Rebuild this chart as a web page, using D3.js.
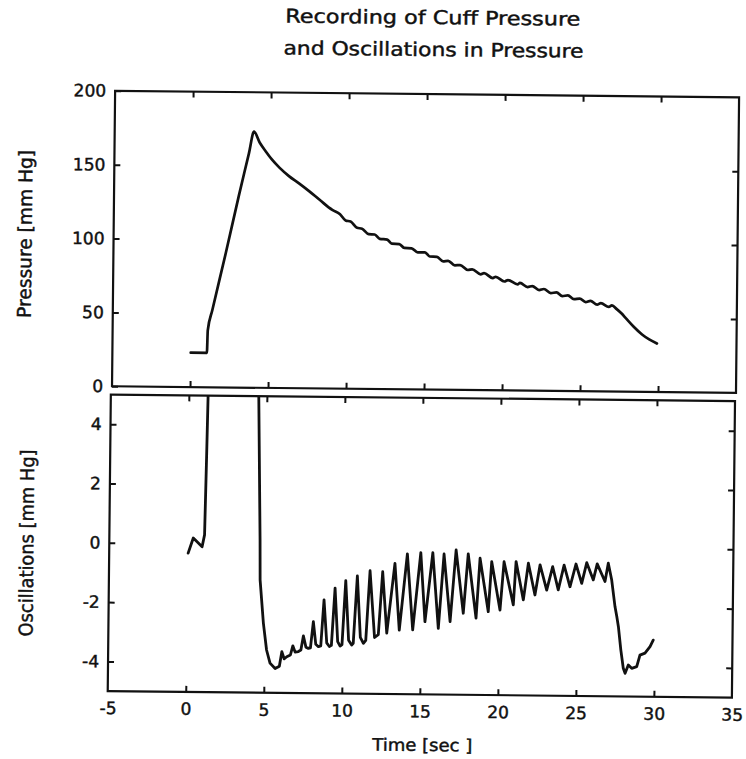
<!DOCTYPE html>
<html>
<head>
<meta charset="utf-8">
<script src="https://cdn.jsdelivr.net/npm/d3@7"></script>
<style>
  html, body { margin: 0; padding: 0; background: #ffffff; }
  svg { display: block; }
  text { font-family: "DejaVu Sans", "Liberation Sans", sans-serif; fill: #111; }
</style>
</head>
<body>
<svg id="chart" width="746" height="759"></svg>
<script>
// Cuff pressure (mm Hg) over time (s): inflation ramp, then slow deflation with heartbeat ripple
const pressureTime  = [
  0.02, 1.06, 1.10, 1.38, 2.20, 3.01, 3.62, 3.93, 4.30, 4.70, 5.12, 5.60, 6.20, 6.85, 7.50, 8.20, 9.00,
  9.50, 9.86, 10.18, 10.60, 10.92, 11.35, 11.73, 12.06, 12.54, 12.84, 13.32, 13.64, 14.11, 14.50,
  14.97, 15.28, 15.74, 16.14, 16.46, 16.89, 17.23, 17.73, 18.01, 18.55, 18.77, 19.33, 19.52, 20.08,
  20.31, 20.93, 21.08, 21.57, 21.87, 22.31, 22.62, 23.06, 23.43, 23.80, 24.16, 24.55, 24.92, 25.30,
  25.61, 26.04, 26.28, 26.79, 26.99,
  27.30, 27.60, 27.90, 28.40, 28.94, 29.40, 29.90
];
const pressureValue = [
  23.3, 23.3, 38.5, 52.3, 90.8, 130.3, 158.6, 173.3, 166, 160, 154.3, 149, 143.5, 138.7, 133.5, 127.5, 120.9,
  118.1, 113.9, 113.2, 109.0, 108.4, 104.8, 104.6, 101.7, 101.2, 98.5, 98.3, 95.7, 95.5, 92.8,
  92.8, 90.1, 89.9, 86.9, 87.3, 84.3, 84.5, 81.2, 81.7, 78.4, 79.2, 75.9, 76.8, 73.7,
  74.7, 71.8, 72.9, 70.1, 70.8, 68.1, 68.9, 66.2, 66.7, 64.2, 64.7, 62.2, 62.7, 60.3,
  61.2, 58.7, 59.7, 57.2, 58.3,
  55.8, 53.0, 49.6, 44.0, 38.8, 35.5, 32.8
];

// Pressure oscillations (mm Hg); null where the trace runs off the top of the panel
const oscTime = [
  0.06, 0.38, 0.95, 1.10, 1.18, 1.25, 2.8,
  4.46, 4.66, 4.69, 4.93, 5.15, 5.38, 5.71,
  5.98, 6.13, 6.28, 6.45,
  6.68, 6.83, 6.98, 7.19,
  7.35, 7.50, 7.67, 7.83,
  7.96, 8.13, 8.30, 8.47,
  8.62, 8.80, 9.00, 9.17,
  9.30, 9.50, 9.70, 9.86,
  9.98, 10.18, 10.40, 10.60,
  10.70, 10.92, 11.15, 11.35,
  11.50, 11.73, 12.06,
  12.30, 12.54, 12.84,
  13.32, 13.64, 14.11, 14.50, 14.97, 15.28, 15.74, 16.14, 16.46, 16.89,
  17.23, 17.73, 18.01, 18.55, 18.77, 19.33, 19.52, 20.08, 20.31, 20.93,
  21.08, 21.57, 21.87, 22.31, 22.62, 23.06, 23.43, 23.80, 24.16, 24.55,
  24.92, 25.30, 25.61, 26.04, 26.28, 26.79, 26.99,
  27.22, 27.45, 27.57, 27.68, 27.85, 28.02, 28.14, 28.34, 28.56, 28.88,
  29.08, 29.40, 29.72, 29.92
];
const oscValue = [
  -0.32, 0.19, -0.10, 0.30, 3.0, 5.6, null,
  5.6, 0.15, -1.2, -2.66, -3.56, -4.0, -4.18,
  -4.10, -3.61, -3.85, -3.78,
  -3.72, -3.41, -3.62, -3.60,
  -3.55, -3.07, -3.45, -3.49,
  -3.47, -2.59, -3.35, -3.43,
  -3.40, -1.85, -3.30, -3.42,
  -3.38, -1.45, -3.25, -3.40,
  -3.35, -1.19, -3.20, -3.36,
  -3.30, -1.03, -3.10, -3.30,
  -3.20, -0.85, -3.10,
  -3.00, -0.88, -2.95,
  -0.59, -2.84, -0.27, -2.83, -0.22, -2.55, -0.22, -2.77, -0.26, -2.54,
  -0.12, -2.25, -0.25, -2.41, -0.39, -2.19, -0.50, -2.13, -0.50, -1.95,
  -0.49, -1.78, -0.54, -1.61, -0.59, -1.44, -0.65, -1.43, -0.59, -1.32,
  -0.55, -1.20, -0.50, -1.08, -0.54, -1.13, -0.51,
  -1.08, -1.98, -2.31, -2.65, -3.43, -4.05, -4.22, -3.94, -4.05, -3.99,
  -3.60, -3.53, -3.31, -3.09
];

const timeTicks     = [-5, 0, 5, 10, 15, 20, 25, 30, 35];
const timeInner     = [0, 5, 10, 15, 20, 25, 30];
const pressureTicks = [0, 50, 100, 150, 200];
const oscTicks      = [-4, -2, 0, 2, 4];

const titleLines = ["Recording of Cuff Pressure", "and Oscillations in Pressure"];

const svg = d3.select("#chart");
// the whole sheet sits very slightly skewed clockwise
const sheet = svg.append("g").attr("transform", "rotate(0.6, 420, 390)");

const xTop = d3.scaleLinear().domain([-5, 35]).range([112, 736]);
const yTop = d3.scaleLinear().domain([0, 200]).range([389.5, 94]);
const xBot = d3.scaleLinear().domain([-5, 35]).range([110.9, 735.1]);
const yBot = d3.scaleLinear().domain([-5, 5]).range([694.3, 397.8]);

const INK = "#111";

function inkText(sel, size) {
  sel.attr("font-size", size).attr("fill", INK)
    .attr("stroke", INK).attr("stroke-width", 0.45)
    .style("font-family", '"DejaVu Sans", sans-serif');
}

function panel(id, x, y, yTicks, yInner, showX) {
  const g = sheet.append("g");
  const [x0, x1] = x.range();
  const [y0, y1] = y.range(); // y0 bottom, y1 top

  g.append("clipPath").attr("id", id)
    .append("rect").attr("x", x0).attr("y", y1).attr("width", x1 - x0).attr("height", y0 - y1);

  // left axis: inward ticks with labels
  const left = g.append("g").attr("transform", `translate(${x0},0)`)
    .call(d3.axisLeft(y).tickValues(yTicks).tickSize(-6).tickPadding(9).tickFormat(d => String(d)));
  // right axis: inward ticks only
  const right = g.append("g").attr("transform", `translate(${x1},0)`)
    .call(d3.axisRight(y).tickValues(yInner).tickSize(-6).tickFormat(""));
  // top edge ticks
  const top = g.append("g").attr("transform", `translate(0,${y1})`)
    .call(d3.axisBottom(x).tickValues(timeInner).tickSize(6).tickFormat(""));
  // bottom edge ticks
  const bottom = g.append("g").attr("transform", `translate(0,${y0})`)
    .call(d3.axisTop(x).tickValues(timeInner).tickSize(6).tickFormat(""));

  [left, right, top, bottom].forEach(a => {
    a.select(".domain").remove();
    a.selectAll("line").attr("stroke", INK).attr("stroke-width", 2);
    inkText(a.selectAll("text"), 17);
  });

  if (showX) {
    const lab = g.append("g").attr("transform", `translate(0,${y0})`)
      .call(d3.axisBottom(x).tickValues(timeTicks).tickSize(0).tickPadding(11).tickFormat(d => String(d)));
    lab.select(".domain").remove();
    inkText(lab.selectAll("text"), 17);
  }

  g.append("rect")
    .attr("x", x0).attr("y", y1).attr("width", x1 - x0).attr("height", y0 - y1)
    .attr("fill", "none").attr("stroke", INK).attr("stroke-width", 2.2);
  return g;
}

const gTop = panel("clipTop", xTop, yTop, pressureTicks, [50, 100, 150], false);
const gBot = panel("clipBot", xBot, yBot, oscTicks, oscTicks, true);

// pressure trace
const pressureLine = d3.line()
  .curve(d3.curveMonotoneX)
  .x((d, i) => xTop(pressureTime[i]))
  .y((d, i) => yTop(pressureValue[i]));
gTop.append("path")
  .datum(pressureTime)
  .attr("clip-path", "url(#clipTop)")
  .attr("d", pressureLine)
  .attr("fill", "none").attr("stroke", INK)
  .attr("stroke-width", 2.7).attr("stroke-linejoin", "round").attr("stroke-linecap", "round");

// oscillation trace
const oscLine = d3.line()
  .defined((d, i) => oscValue[i] !== null)
  .x((d, i) => xBot(oscTime[i]))
  .y((d, i) => yBot(oscValue[i]));
gBot.append("path")
  .datum(oscTime)
  .attr("clip-path", "url(#clipBot)")
  .attr("d", oscLine)
  .attr("fill", "none").attr("stroke", INK)
  .attr("stroke-width", 2.8).attr("stroke-linejoin", "round").attr("stroke-linecap", "round");

// titles and axis names
inkText(sheet.append("text").attr("x", 429).attr("y", 24).attr("text-anchor", "middle")
  .attr("textLength", 295).attr("lengthAdjust", "spacingAndGlyphs")
  .text(titleLines[0]), 19);
inkText(sheet.append("text").attr("x", 430).attr("y", 56).attr("text-anchor", "middle")
  .attr("textLength", 300).attr("lengthAdjust", "spacingAndGlyphs")
  .text(titleLines[1]), 19);

inkText(sheet.append("text").attr("transform", "translate(30,238) rotate(-90)")
  .attr("text-anchor", "middle")
  .attr("textLength", 168).attr("lengthAdjust", "spacingAndGlyphs")
  .text("Pressure [mm Hg]"), 19);
inkText(sheet.append("text").attr("transform", "translate(35,547) rotate(-90)")
  .attr("text-anchor", "middle")
  .attr("textLength", 187).attr("lengthAdjust", "spacingAndGlyphs")
  .text("Oscillations [mm Hg]"), 19);
inkText(sheet.append("text").attr("x", 426).attr("y", 751).attr("text-anchor", "middle")
  .attr("textLength", 100).attr("lengthAdjust", "spacingAndGlyphs")
  .text("Time [sec ]"), 17);
</script>
</body>
</html>
